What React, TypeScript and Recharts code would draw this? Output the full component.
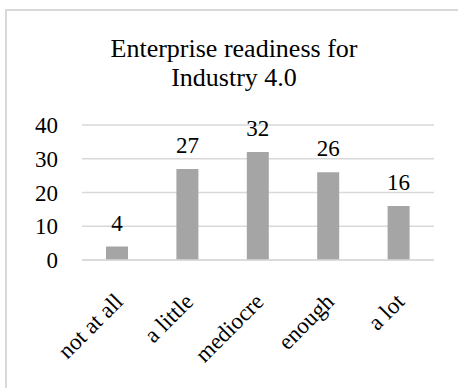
import { BarChart, Bar, XAxis, YAxis, CartesianGrid, LabelList } from "recharts"

const categories = ["not at all", "a little", "mediocre", "enough", "a lot"]
const counts = [4, 27, 32, 26, 16]
const yTicks = [0, 10, 20, 30, 40]
const titleLines = ["Enterprise readiness for", "Industry 4.0"]

const data = categories.map((level, i) => ({ level, count: counts[i] }))

const font = "'Liberation Serif', 'Times New Roman', serif"

function SlantTick({ x, y, payload }: any) {
  return (
    <text
      transform={`translate(${x + 7},${y + 43}) rotate(-45)`}
      textAnchor="end"
      fontFamily={font}
      fontSize={23}
      fill="#000"
    >
      {payload.value}
    </text>
  )
}

export default function App() {
  return (
    <div style={{ position: "absolute", left: 0, top: 0, width: 458, height: 388, overflow: "hidden", background: "#fff" }}>
      <div
        style={{
          position: "absolute",
          left: 5,
          top: 9,
          width: 480,
          height: 420,
          border: "2px solid #d9d9d9",
          boxSizing: "border-box",
        }}
      />
      <div
        style={{
          position: "absolute",
          left: 8,
          width: 452,
          top: 35,
          textAlign: "center",
          fontFamily: font,
          fontSize: 26,
          lineHeight: "28.5px",
          color: "#000",
        }}
      >
        {titleLines.map((t) => (
          <div key={t}>{t}</div>
        ))}
      </div>
      <div style={{ position: "absolute", left: 0, top: 0 }}>
        <BarChart width={458} height={388} data={data} margin={{ top: 125, right: 24, left: 0, bottom: 0 }}>
          <CartesianGrid vertical={false} stroke="#d9d9d9" strokeWidth={1.5} />
          <XAxis
            dataKey="level"
            interval={0}
            height={128}
            tickLine={false}
            tickSize={0}
            tickMargin={0}
            axisLine={{ stroke: "#d9d9d9", strokeWidth: 1.5 }}
            tick={<SlantTick />}
          />
          <YAxis
            width={82}
            domain={[0, 40]}
            ticks={yTicks}
            axisLine={false}
            tickLine={false}
            tickSize={0}
            tickMargin={24}
            tick={{ fontFamily: font, fontSize: 23, fill: "#000" }}
          />
          <Bar dataKey="count" fill="#a5a5a5" barSize={22} isAnimationActive={false}>
            <LabelList dataKey="count" position="top" offset={16} fontFamily={font} fontSize={23} fill="#000" />
          </Bar>
        </BarChart>
      </div>
    </div>
  )
}
